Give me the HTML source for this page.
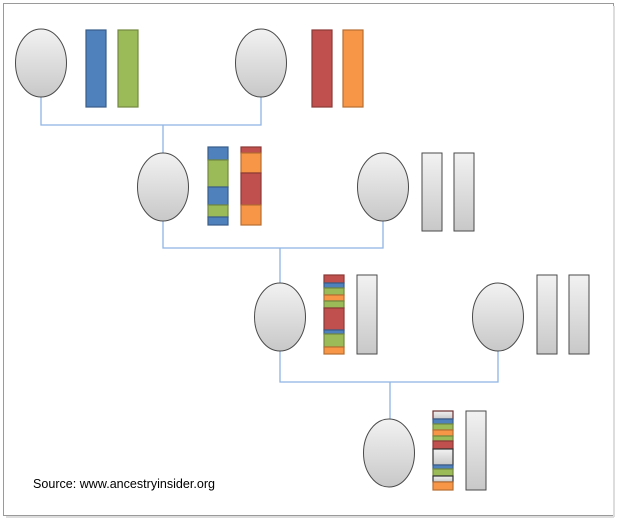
<!DOCTYPE html>
<html><head><style>body{margin:0;background:#fff}svg{display:block}</style></head><body>
<svg width="620" height="522" xmlns="http://www.w3.org/2000/svg">
<defs>
<linearGradient id="g" x1="0" y1="0" x2="0" y2="1"><stop offset="0" stop-color="#f2f2f2"/><stop offset="1" stop-color="#c8c8c8"/></linearGradient>
</defs>
<rect x="3.5" y="3.5" width="610" height="512" fill="#fff" stroke="#9a9a9a"/>
<line x1="614" y1="6" x2="614" y2="517" stroke="#ddd" stroke-width="2"/>
<line x1="6" y1="517" x2="614" y2="517" stroke="#ddd" stroke-width="2"/>
<g stroke="#8eb4e3" stroke-width="1.3" fill="none">
<path d="M41 97V125H261V97M163 125V153"/>
<path d="M163 221V248H383V221M280 248V283"/>
<path d="M280 351V382H498V351M390 382V419"/>
</g>
<g fill="url(#g)" stroke="#4a4a4a" stroke-width="1">
<ellipse cx="41" cy="63" rx="25.5" ry="34"/>
<ellipse cx="261" cy="63" rx="25.5" ry="34"/>
<ellipse cx="163" cy="187" rx="25.5" ry="34"/>
<ellipse cx="383" cy="187" rx="25.5" ry="34"/>
<ellipse cx="280" cy="317" rx="25.5" ry="34"/>
<ellipse cx="498" cy="317" rx="25.5" ry="34"/>
<ellipse cx="389" cy="453" rx="25.5" ry="34"/>
<rect x="422" y="153" width="20" height="78"/>
<rect x="454" y="153" width="20" height="78"/>
<rect x="357" y="275" width="20" height="79"/>
<rect x="537" y="275" width="20" height="79"/>
<rect x="569" y="275" width="20" height="79"/>
<rect x="466" y="411" width="20" height="79"/>
</g>
<g stroke-width="1.2">
<rect x="86" y="30" width="20" height="77" fill="#4f81bd" stroke="#385d8a"/>
<rect x="118" y="30" width="20" height="77" fill="#9bbb59" stroke="#71893f"/>
<rect x="312" y="30" width="20" height="77" fill="#c0504d" stroke="#8c3836"/>
<rect x="343" y="30" width="20" height="77" fill="#f79646" stroke="#b66d31"/>
</g>
<g stroke-width="1.2">
<rect x="208" y="147" width="20" height="13" fill="#4f81bd" stroke="#385d8a"/>
<rect x="208" y="160" width="20" height="27" fill="#9bbb59" stroke="#71893f"/>
<rect x="208" y="187" width="20" height="18" fill="#4f81bd" stroke="#385d8a"/>
<rect x="208" y="205" width="20" height="12" fill="#9bbb59" stroke="#71893f"/>
<rect x="208" y="217" width="20" height="8" fill="#4f81bd" stroke="#385d8a"/>
<rect x="241" y="147" width="20" height="6" fill="#c0504d" stroke="#8c3836"/>
<rect x="241" y="153" width="20" height="20" fill="#f79646" stroke="#b66d31"/>
<rect x="241" y="173" width="20" height="32" fill="#c0504d" stroke="#8c3836"/>
<rect x="241" y="205" width="20" height="20" fill="#f79646" stroke="#b66d31"/>
</g>
<g stroke-width="1.2">
<rect x="324" y="275" width="20" height="8" fill="#c0504d" stroke="#8c3836"/>
<rect x="324" y="283" width="20" height="5" fill="#4f81bd" stroke="#385d8a"/>
<rect x="324" y="288" width="20" height="7" fill="#9bbb59" stroke="#71893f"/>
<rect x="324" y="295" width="20" height="6" fill="#f79646" stroke="#b66d31"/>
<rect x="324" y="301" width="20" height="7" fill="#9bbb59" stroke="#71893f"/>
<rect x="324" y="308" width="20" height="22" fill="#c0504d" stroke="#8c3836"/>
<rect x="324" y="330" width="20" height="4" fill="#4f81bd" stroke="#385d8a"/>
<rect x="324" y="334" width="20" height="13" fill="#9bbb59" stroke="#71893f"/>
<rect x="324" y="347" width="20" height="7" fill="#f79646" stroke="#b66d31"/>
</g>
<g stroke-width="1.2">
<rect x="433" y="411" width="20" height="8" fill="url(#g)" stroke="#6b2f2f"/>
<rect x="433" y="419" width="20" height="5" fill="#4f81bd" stroke="#385d8a"/>
<rect x="433" y="424" width="20" height="6" fill="#9bbb59" stroke="#71893f"/>
<rect x="433" y="430" width="20" height="6" fill="#f79646" stroke="#b66d31"/>
<rect x="433" y="436" width="20" height="5" fill="#9bbb59" stroke="#71893f"/>
<rect x="433" y="441" width="20" height="8" fill="#c0504d" stroke="#8c3836"/>
<rect x="433" y="449" width="20" height="16" fill="url(#g)" stroke="#333"/>
<rect x="433" y="465" width="20" height="4" fill="#4f81bd" stroke="#385d8a"/>
<rect x="433" y="469" width="20" height="7" fill="#9bbb59" stroke="#71893f"/>
<rect x="433" y="476" width="20" height="6" fill="url(#g)" stroke="#333"/>
<rect x="433" y="482" width="20" height="8" fill="#f79646" stroke="#b66d31"/>
</g>
<text x="33" y="488" font-family="Liberation Sans, sans-serif" font-size="12.5" textLength="182" lengthAdjust="spacingAndGlyphs" fill="#000">Source: www.ancestryinsider.org</text>
</svg>
</body></html>
